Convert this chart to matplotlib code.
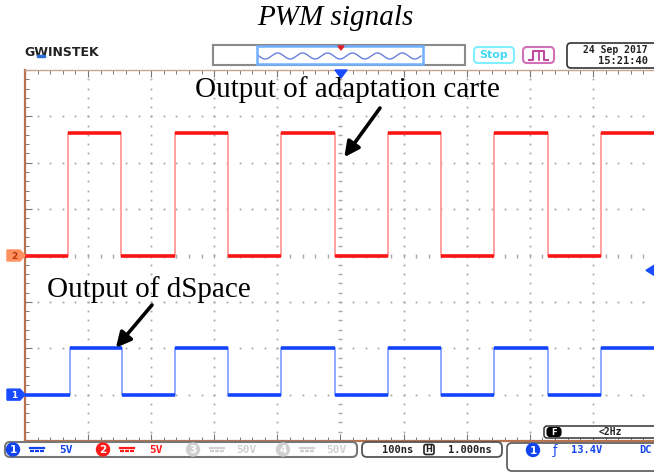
import numpy as np
import matplotlib
matplotlib.use("Agg")
import matplotlib.pyplot as plt
from matplotlib.patches import FancyBboxPatch, Polygon, Rectangle, Circle

W, H = 654, 473

# scope settings: 100 ns/div, 5 V/div, 10 x 8 divisions
ns_per_div = 100
volts_per_div = 5.0
t_start, t_end = -500, 500

# edge times (ns) of the two PWM signals, both start low
red_edges = [-432, -348, -262, -178, -94, -8, 76, 160, 244, 329, 413]
blue_edges = [-429, -346, -262, -178, -94, -8, 76, 160, 244, 329, 413]
red_low, red_high = 0.0, 13.2     # V (CH2)
blue_low, blue_high = 0.0, 5.0    # V (CH1)
red_offset = 0.0                  # div
blue_offset = -3.0                # div
trig_level = 13.4                 # V on CH1

RED = "#ff1414"
RED_LIGHT = "#ff9a9a"
BLUE = "#1444ff"
BLUE_LIGHT = "#86a2ff"
GRID = "#a8a8a8"
BORDER = "#b8734e"
SERIF = "Liberation Serif"
MONO = "DejaVu Sans Mono"


def square(edges, lo, hi):
    xs, ys = [t_start], [lo]
    level = lo
    for e in edges:
        new = hi if level == lo else lo
        xs += [e, e]
        ys += [level, new]
        level = new
    xs.append(t_end)
    ys.append(level)
    return np.array(xs, float), np.array(ys, float)


def draw_trace(ax, edges, lo, hi, offset, c_main, c_light):
    xs, ys = square(edges, lo, hi)
    yd = offset + ys / volts_per_div
    ax.plot(xs, yd, color=c_light, lw=1.3, zorder=3, solid_joinstyle="miter")
    # flat parts are drawn brighter and thicker, like on the scope
    for i in range(0, len(xs) - 1, 2):
        ax.plot(xs[i:i + 2], yd[i:i + 2], color=c_main, lw=2.6, zorder=4,
                solid_capstyle="butt")


def dc_symbol(ov, cx, cy, col):
    # "solid over dashed" DC coupling sign
    ov.plot([cx - 7, cx + 7], [cy - 1.5, cy - 1.5], color=col, lw=1.6)
    for dx in (-7, -2, 3):
        ov.plot([cx + dx, cx + dx + 3.5], [cy + 1.8, cy + 1.8], color=col, lw=1.6,
                solid_capstyle="butt")


fig = plt.figure(figsize=(W / 100, H / 100), dpi=100)
fig.patch.set_facecolor("white")

# graticule area in pixels
gl, gr, gt, gb = 25, 656, 70, 441
ax = fig.add_axes([gl / W, 1 - gb / H, (gr - gl) / W, (gb - gt) / H], zorder=1)
ax.set_xlim(t_start, t_end)
ax.set_ylim(-4, 4)
ax.set_facecolor("white")

# dotted graticule
for xv in np.arange(t_start + ns_per_div, t_end, ns_per_div):
    yy = np.arange(-4, 4.001, 0.2)
    if xv == 0:
        ax.plot(np.full_like(yy, xv), yy, ls="none", marker="_", ms=3.5,
                mew=1.0, color=GRID, zorder=1)
    else:
        ax.plot(np.full_like(yy, xv), yy, ls="none", marker="s", ms=1.3,
                mew=0, color=GRID, zorder=1)
for yv in np.arange(-3, 4, 1):
    xx = np.arange(t_start, t_end + 0.1, 20)
    if yv == 0:
        ax.plot(xx, np.full_like(xx, yv), ls="none", marker="|", ms=3.5,
                mew=1.0, color=GRID, zorder=1)
    else:
        ax.plot(xx, np.full_like(xx, yv), ls="none", marker="s", ms=1.3,
                mew=0, color=GRID, zorder=1)

# edge ticks
ax.set_xticks(np.arange(t_start, t_end + 1, ns_per_div))
ax.set_xticks(np.arange(t_start, t_end + 1, 20), minor=True)
ax.set_yticks(np.arange(-4, 5, 1))
ax.set_yticks(np.arange(-4, 4.01, 0.2), minor=True)
ax.tick_params(which="both", direction="in", top=True, bottom=True,
               left=True, right=False, labelleft=False, labelbottom=False,
               color="#777777")
ax.tick_params(which="major", length=5, width=0.8)
ax.tick_params(which="minor", length=3, width=0.7)
for s in ("left", "bottom"):
    ax.spines[s].set_color(BORDER)
    ax.spines[s].set_linewidth(1.6)
ax.spines["top"].set_color("#c9a58f")
ax.spines["top"].set_linewidth(1.0)
ax.spines["right"].set_visible(False)

draw_trace(ax, red_edges, red_low, red_high, red_offset, RED, RED_LIGHT)
draw_trace(ax, blue_edges, blue_low, blue_high, blue_offset, BLUE, BLUE_LIGHT)

# ---- overlay in pixel coordinates for the scope frame ----
ov = fig.add_axes([0, 0, 1, 1], zorder=5)
ov.set_xlim(0, W)
ov.set_ylim(H, 0)
ov.axis("off")
ov.patch.set_alpha(0)

ov.text(335, 25, "PWM signals", family=SERIF, style="italic", fontsize=21,
        ha="center", va="baseline")

# logo
ov.text(62, 52.5, "GWINSTEK", family="DejaVu Sans", weight="bold",
        fontsize=9, ha="center", va="center", color="#222222")
ov.add_patch(Rectangle((37, 55), 8, 2, color="#2a6fd6", zorder=6))

# timeline bar
ov.add_patch(Rectangle((213, 45), 252, 20, fc="white", ec="#8a8a8a", lw=1.5))
ov.add_patch(Rectangle((257, 46), 166, 18, fc="white", ec="#6fb0ff", lw=1.8))
wx = np.linspace(259, 421, 300)
ov.plot(wx, 56 + 3 * np.sin((wx - 259) / 162 * 2 * np.pi * 6.5), color="#6a7fe0",
        lw=1.0)
ov.add_patch(Polygon([[338, 46], [344, 46], [341, 50]], color="#e02020"))

# stop / run buttons
ov.add_patch(FancyBboxPatch((474, 47), 40, 16, boxstyle="round,pad=0,rounding_size=4",
                            fc="white", ec="#7ff0ff", lw=1.5))
ov.text(494, 55.5, "Stop", family="DejaVu Sans", weight="bold", fontsize=8,
        color="#45d8f5", ha="center", va="center")
ov.add_patch(FancyBboxPatch((523, 47), 31, 16, boxstyle="round,pad=0,rounding_size=4",
                            fc="white", ec="#d070b8", lw=1.5))
ov.plot([529, 533, 533, 544, 544, 548], [60, 60, 51, 51, 60, 60],
        color="#c04aa0", lw=1.5)
ov.plot([538.5, 538.5], [51, 60], color="#c04aa0", lw=1.3)

# date box
ov.add_patch(FancyBboxPatch((567, 43), 100, 25, boxstyle="round,pad=0,rounding_size=4",
                            fc="white", ec="#333333", lw=1.2))
ov.text(648, 50, "24 Sep 2017", family=MONO, weight="bold", fontsize=7,
        ha="right", va="center", color="#222222")
ov.text(648, 61, "15:21:40", family=MONO, weight="bold", fontsize=7.5,
        ha="right", va="center", color="#222222")

# trigger position marker (top) and trigger level (right)
ov.add_patch(Polygon([[335, 70], [347, 70], [341, 78]], color="#1a4cff"))
ty = gt + (4 - (blue_offset + trig_level / volts_per_div)) / 8 * (gb - gt)
ov.add_patch(Polygon([[654, ty - 5], [654, ty + 5], [646, ty]], color="#1a4cff"))

# channel markers on the left
for off, lab, fc, tc in [(red_offset, "2", "#ff9060", "#c03000"),
                         (blue_offset, "1", "#1a4cff", "white")]:
    py = gt + (4 - off) / 8 * (gb - gt)
    ov.add_patch(Polygon([[7, py - 5.5], [20, py - 5.5], [25, py], [20, py + 5.5],
                          [7, py + 5.5]], color=fc, zorder=6))
    ov.text(14, py + 0.5, lab, family="DejaVu Sans", weight="bold", fontsize=6.5,
            color=tc, ha="center", va="center", zorder=7)

# annotations
ov.text(347, 97, "Output of adaptation carte", family=SERIF, fontsize=21,
        ha="center", va="baseline")
ov.text(149, 297, "Output of dSpace", family=SERIF, fontsize=21,
        ha="center", va="baseline")
arrow = dict(arrowstyle="-|>,head_length=0.9,head_width=0.45", color="black",
             lw=2.6, shrinkA=0, shrinkB=0)
ax.annotate("", xy=(6, 2.12), xytext=(380, 108), textcoords=ov.transData,
            arrowprops=arrow, zorder=8, annotation_clip=False)
ax.annotate("", xy=(-356, -1.99), xytext=(152, 305), textcoords=ov.transData,
            arrowprops=arrow, zorder=8, annotation_clip=False)

# F counter box
ov.add_patch(FancyBboxPatch((544, 426), 120, 12, boxstyle="round,pad=0,rounding_size=3",
                            fc="white", ec="#333333", lw=1.1))
ov.add_patch(FancyBboxPatch((547, 427.5), 14, 9, boxstyle="round,pad=0,rounding_size=3",
                            fc="black", ec="black", lw=0.8))
ov.text(554, 432.3, "F", family="DejaVu Sans", weight="bold", fontsize=6,
        color="white", ha="center", va="center")
ov.text(610, 432.3, "<2Hz", family=MONO, weight="bold", fontsize=7,
        color="#222222", ha="center", va="center")

# bottom status bar
ov.add_patch(FancyBboxPatch((5, 442), 352, 15, boxstyle="round,pad=0,rounding_size=5",
                            fc="white", ec="#777777", lw=1.5))
chans = [("1", 13, "#1144ee", "5V"), ("2", 103, "#ff1a1a", "5V"),
         ("3", 193, "#d0d0d0", "50V"), ("4", 283, "#d0d0d0", "50V")]
for lab, cx, col, vtxt in chans:
    ov.add_patch(Circle((cx, 449.5), 6.5, color=col, zorder=6))
    ov.text(cx, 450, lab, family="DejaVu Sans", weight="bold", fontsize=7.5,
            color="white", ha="center", va="center", zorder=7)
    dc_symbol(ov, cx + 24, 449.5, col)
    ov.text(cx + 53, 449.5, vtxt, family=MONO, weight="bold", fontsize=8,
            color=col, ha="center", va="center")

ov.add_patch(FancyBboxPatch((362, 442), 140, 15, boxstyle="round,pad=0,rounding_size=5",
                            fc="white", ec="#555555", lw=1.3))
ov.text(398, 449.5, "100ns", family=MONO, weight="bold", fontsize=7.5,
        color="#222222", ha="center", va="center")
ov.add_patch(FancyBboxPatch((424, 444.5), 10, 10, boxstyle="round,pad=0,rounding_size=2",
                            fc="white", ec="#222222", lw=1.2))
ov.text(429, 449.7, "H", family="DejaVu Sans", weight="bold", fontsize=6,
        color="#222222", ha="center", va="center")
ov.text(470, 449.5, "1.000ns", family=MONO, weight="bold", fontsize=7.5,
        color="#222222", ha="center", va="center")

ov.add_patch(FancyBboxPatch((507, 443), 160, 28, boxstyle="round,pad=0,rounding_size=5",
                            fc="white", ec="#555555", lw=1.2))
ov.add_patch(Circle((533, 450), 6.5, color="#1144ee", zorder=6))
ov.text(533, 450.5, "1", family="DejaVu Sans", weight="bold", fontsize=7.5,
        color="white", ha="center", va="center", zorder=7)
ov.text(555, 450, "\u0192", family="DejaVu Sans", fontsize=9, color="#1144ee",
        ha="center", va="center")
ov.text(587, 450, "13.4V", family=MONO, weight="bold", fontsize=7.5,
        color="#1144ee", ha="center", va="center")
ov.text(645, 450, "DC", family=MONO, weight="bold", fontsize=7.5,
        color="#1144ee", ha="center", va="center")

fig.savefig("out.png", dpi=100, facecolor="white")
